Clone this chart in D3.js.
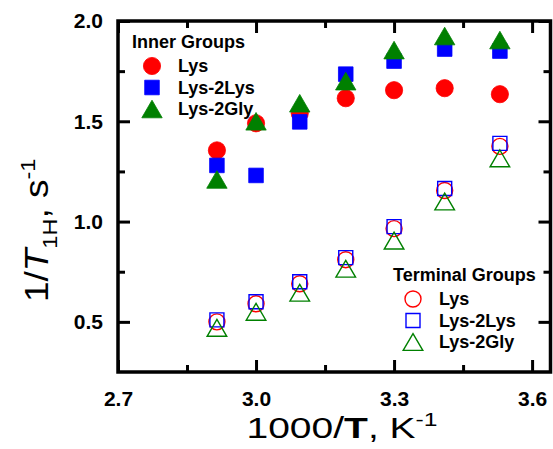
<!DOCTYPE html>
<html>
<head>
<meta charset="utf-8">
<script src="https://cdn.jsdelivr.net/npm/d3@7"></script>
<style>
  body { margin: 0; background: #fff; }
  text { font-family: Arial, "Liberation Sans", sans-serif; }
</style>
</head>
<body>
<div id="chart"></div>
<script>
// data
const xValues = [2.915, 3.0, 3.095, 3.195, 3.3, 3.41, 3.53];

const innerLys     = [1.355, 1.49, 1.54, 1.615, 1.655, 1.665, 1.635];
const innerLys2Lys = [1.28, 1.23, 1.497, 1.735, 1.80, 1.86, 1.85];
const innerLys2Gly = [1.21, 1.50, 1.59, 1.70, 1.855, 1.925, 1.905];

const termLys      = [0.50, 0.59, 0.69, 0.81, 0.965, 1.155, 1.375];
const termLys2Lys  = [0.51, 0.60, 0.70, 0.82, 0.975, 1.165, 1.39];
const termLys2Gly  = [0.47, 0.55, 0.645, 0.765, 0.905, 1.10, 1.315];

const seriesNames = ['Lys', 'Lys-2Lys', 'Lys-2Gly'];
const xTicks = [2.7, 3.0, 3.3, 3.6];
const xMinor = [2.85, 3.15, 3.45];
const yTicks = [0.5, 1.0, 1.5, 2.0];
const yMinor = [0.75, 1.25, 1.75];

const width = 553, height = 449;
const plot = {left: 118, right: 550.5, top: 21, bottom: 372};

const svg = d3.select('#chart').append('svg')
  .attr('width', width)
  .attr('height', height);

const xScale = d3.scaleLinear().domain([2.7, 3.64]).range([plot.left, plot.right]);
const yScale = d3.scaleLinear().domain([0.25, 2.0]).range([plot.bottom, plot.top]);

const shapes = ['circle', 'square', 'triangle'];
const colors = ['#ff0000', '#0000ff', '#008000'];

// marker path centred on 0,0
function markerPath(shape, open) {
  const p = d3.path();
  if (shape === 'circle') {
    const r = open ? 8 : 8.6;
    p.moveTo(r, 0);
    p.arc(0, 0, r, 0, 2 * Math.PI);
  } else if (shape === 'square') {
    const h = open ? 7 : 7.3;
    p.rect(-h, -h, 2 * h, 2 * h);
  } else {
    const w = open ? 9.8 : 10.2, hh = open ? 8.4 : 8.8;
    p.moveTo(0, -hh);
    p.lineTo(w, hh);
    p.lineTo(-w, hh);
    p.closePath();
  }
  return p.toString();
}

function drawSeries(values, k, open) {
  svg.append('g').selectAll('path')
    .data(values)
    .join('path')
    .attr('transform', (d, i) => `translate(${xScale(xValues[i])},${yScale(d)})`)
    .attr('d', markerPath(shapes[k], open))
    .attr('fill', open ? 'none' : colors[k])
    .attr('stroke', colors[k])
    .attr('stroke-width', open ? 1.4 : 0.8);
}

[termLys, termLys2Lys, termLys2Gly].forEach((s, k) => drawSeries(s, k, true));
[innerLys, innerLys2Lys, innerLys2Gly].forEach((s, k) => drawSeries(s, k, false));

// axes, ticks inward on all four sides
const tickStyle = g => {
  g.select('.domain').remove();
  g.attr('font-family', null);
  g.selectAll('.tick line').attr('stroke', '#000').attr('stroke-width', 3);
  g.selectAll('.tick text')
    .attr('fill', '#000')
    .style('font-size', '21px')
    .style('font-weight', 'bold');
};

svg.append('g')
  .attr('transform', `translate(0,${plot.bottom})`)
  .call(d3.axisBottom(xScale).tickValues(xTicks).tickSize(-12).tickPadding(19)
    .tickFormat(d3.format('.1f')))
  .call(tickStyle);
svg.append('g')
  .attr('transform', `translate(0,${plot.bottom})`)
  .call(d3.axisBottom(xScale).tickValues(xMinor).tickSize(-7).tickFormat(''))
  .call(tickStyle);
svg.append('g')
  .attr('transform', `translate(0,${plot.top})`)
  .call(d3.axisTop(xScale).tickValues(xTicks).tickSize(-12).tickFormat(''))
  .call(tickStyle);
svg.append('g')
  .attr('transform', `translate(0,${plot.top})`)
  .call(d3.axisTop(xScale).tickValues(xMinor).tickSize(-7).tickFormat(''))
  .call(tickStyle);

svg.append('g')
  .attr('transform', `translate(${plot.left},0)`)
  .call(d3.axisLeft(yScale).tickValues(yTicks).tickSize(-12).tickPadding(15)
    .tickFormat(d3.format('.1f')))
  .call(tickStyle);
svg.append('g')
  .attr('transform', `translate(${plot.left},0)`)
  .call(d3.axisLeft(yScale).tickValues(yMinor).tickSize(-7).tickFormat(''))
  .call(tickStyle);
svg.append('g')
  .attr('transform', `translate(${plot.right},0)`)
  .call(d3.axisRight(yScale).tickValues(yTicks).tickSize(-12).tickFormat(''))
  .call(tickStyle);
svg.append('g')
  .attr('transform', `translate(${plot.right},0)`)
  .call(d3.axisRight(yScale).tickValues(yMinor).tickSize(-7).tickFormat(''))
  .call(tickStyle);

svg.append('rect')
  .attr('x', plot.left).attr('y', plot.top)
  .attr('width', plot.right - plot.left).attr('height', plot.bottom - plot.top)
  .attr('fill', 'none')
  .attr('stroke', '#000')
  .attr('stroke-width', 3.5);

// axis titles
const xTitle = svg.append('text')
  .attr('transform', 'translate(342,438) scale(1.3,1)')
  .attr('text-anchor', 'middle')
  .style('font-size', '30px');
xTitle.append('tspan').text('1000/');
xTitle.append('tspan').style('font-weight', 'bold').text('T');
xTitle.append('tspan').text(', K');
xTitle.append('tspan').attr('dy', -12).style('font-size', '19px').text('-1');

const yTitle = svg.append('text')
  .attr('transform', 'translate(48,302) rotate(-90) scale(1.12,1)')
  .style('font-size', '33px');
yTitle.append('tspan').text('1/');
yTitle.append('tspan').style('font-style', 'italic').text('T');
yTitle.append('tspan').attr('dy', 9).style('font-size', '21px').text('1H');
yTitle.append('tspan').attr('dy', -9).text(', s');
yTitle.append('tspan').attr('dy', -13).style('font-size', '21px').text('-1');

// legends
function legend(title, x, y, open) {
  const g = svg.append('g').attr('transform', `translate(${x},${y})`);
  g.append('text')
    .attr('x', 0).attr('y', 0)
    .style('font-size', '18px').style('font-weight', 'bold')
    .text(title);
  seriesNames.forEach((name, k) => {
    const cy = 18 + k * 21.5;
    g.append('path')
      .attr('transform', `translate(20,${cy})`)
      .attr('d', markerPath(shapes[k], open))
      .attr('fill', open ? 'none' : colors[k])
      .attr('stroke', colors[k])
      .attr('stroke-width', open ? 1.4 : 0.8);
    g.append('text')
      .attr('x', 46).attr('y', cy + 6)
      .style('font-size', '18px').style('font-weight', 'bold')
      .text(name);
  });
}

legend('Inner Groups', 132, 48, false);
legend('Terminal Groups', 393, 281, true);
</script>
</body>
</html>
